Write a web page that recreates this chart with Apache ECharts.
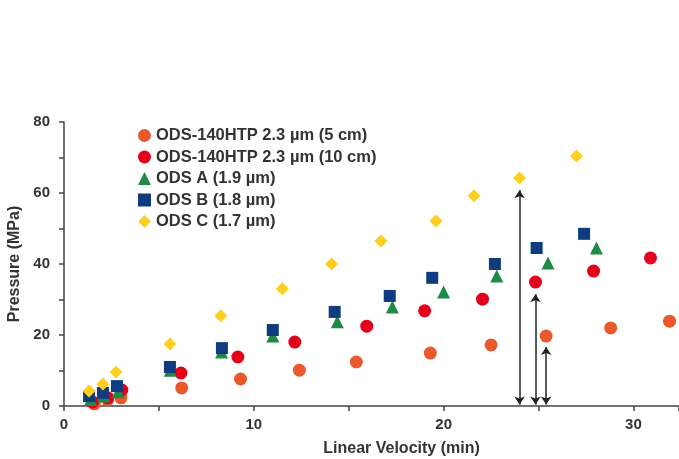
<!DOCTYPE html>
<html>
<head>
<meta charset="utf-8">
<script src="https://cdn.jsdelivr.net/npm/echarts@6/dist/echarts.min.js"></script>
<style>
html,body{margin:0;padding:0;background:#fff;}
#chart{width:679px;height:459px;}
</style>
</head>
<body>
<div id="chart"></div>
<script>
// Series names
const seriesNames = [
  'ODS-140HTP 2.3 µm (5 cm)',
  'ODS-140HTP 2.3 µm (10 cm)',
  'ODS A (1.9 µm)',
  'ODS B (1.8 µm)',
  'ODS C (1.7 µm)'
];
// ODS-140HTP 5 cm
const htp5X = [1.6, 2.3, 3.0, 6.2, 9.3, 12.4, 15.4, 19.3, 22.5, 25.4, 28.8, 31.9];
const htp5Y = [0.6, 1.7, 2.3, 5.1, 7.6, 10.1, 12.4, 14.9, 17.2, 19.7, 22.0, 23.9];
// ODS-140HTP 10 cm
const htp10X = [1.5, 2.3, 3.05, 6.16, 9.16, 12.16, 15.95, 19.0, 22.05, 24.84, 27.9, 30.9];
const htp10Y = [1.1, 2.3, 4.5, 9.3, 13.8, 18.0, 22.5, 26.8, 30.1, 34.9, 38.0, 41.7];
// ODS A
const odsAX = [1.4, 2.1, 2.85, 5.6, 8.3, 11.0, 14.4, 17.3, 20.0, 22.8, 25.5, 28.05];
const odsAY = [1.8, 2.8, 4.0, 10.1, 15.2, 19.7, 23.7, 27.9, 32.1, 36.6, 40.3, 44.5];
// ODS B
const odsBX = [1.32, 2.05, 2.79, 5.58, 8.32, 11.0, 14.26, 17.16, 19.4, 22.7, 24.9, 27.4];
const odsBY = [2.8, 3.7, 5.6, 11.0, 16.3, 21.4, 26.5, 31.0, 36.1, 40.0, 44.5, 48.5];
// ODS C
const odsCX = [1.32, 2.05, 2.74, 5.58, 8.26, 11.5, 14.1, 16.7, 19.6, 21.6, 24.0, 27.0];
const odsCY = [4.2, 6.2, 9.6, 17.5, 25.4, 33.0, 40.0, 46.5, 52.1, 59.2, 64.2, 70.4];
// Double-headed arrows
const arrowX = [24.0, 24.84, 25.4];
const arrowTop = [60.8, 31.5, 16.6];
const arrowBottom = [0.4, 0.4, 0.4];
// Axis ticks
const xLabelValues = [0, 10, 20, 30];
const yLabelValues = [0, 20, 40, 60, 80];

const zip = (xs, ys) => xs.map((x, i) => [x, ys[i]]);
const font = 'Liberation Sans, Arial, sans-serif';
const textColor = '#333';

const chart = echarts.init(document.getElementById('chart'));
const mk = (name, xs, ys, symbol, color, size) => ({
  name, type: 'scatter', data: zip(xs, ys), symbol, symbolSize: size,
  itemStyle: {color, opacity: 1}, emphasis: {disabled: true}
});

chart.setOption({
  animation: false,
  backgroundColor: '#fff',
  grid: {left: 64, right: 0, top: 122, bottom: 53, containLabel: false, outerBoundsMode: 'none'},
  legend: {
    orient: 'vertical', left: 133, top: 122,
    itemWidth: 13, itemHeight: 13, itemGap: 4.5,
    textStyle: {fontFamily: font, fontSize: 16.5, fontWeight: 'bold', color: textColor},
    data: seriesNames
  },
  xAxis: {
    type: 'value', min: 0, max: 32.4, interval: 5,
    name: 'Linear Velocity (min)', nameLocation: 'middle', nameGap: 35,
    nameTextStyle: {fontFamily: font, fontSize: 16, fontWeight: 'bold', color: textColor, padding: [0,0,0,60]},
    axisLine: {lineStyle: {color: '#444', width: 1.5}},
    axisTick: {show: true, length: 5, lineStyle: {color: '#444', width: 1.5}},
    axisLabel: {fontFamily: font, fontSize: 15, fontWeight: 'bold', color: textColor, margin: 11,
      formatter: v => xLabelValues.includes(v) ? String(v) : ''},
    splitLine: {show: false}
  },
  yAxis: {
    type: 'value', min: 0, max: 80, interval: 10,
    name: 'Pressure (MPa)', nameLocation: 'middle', nameGap: 40, nameRotate: 90,
    nameTextStyle: {fontFamily: font, fontSize: 16, fontWeight: 'bold', color: textColor},
    axisLine: {show: true, lineStyle: {color: '#444', width: 1.5}},
    axisTick: {show: true, length: 5, lineStyle: {color: '#444', width: 1.5}},
    axisLabel: {fontFamily: font, fontSize: 15, fontWeight: 'bold', color: textColor, margin: 14,
      formatter: v => yLabelValues.includes(v) ? String(v) : ''},
    splitLine: {show: false}
  },
  series: [
    {
      type: 'lines', coordinateSystem: 'cartesian2d', silent: true, z: 1,
      symbol: ['arrow', 'arrow'], symbolSize: 8,
      lineStyle: {color: '#222', width: 1.5, opacity: 1},
      data: arrowX.map((x, i) => ({coords: [[x, arrowBottom[i]], [x, arrowTop[i]]]}))
    },
    mk(seriesNames[0], htp5X, htp5Y, 'circle', '#E9592C', 13),
    mk(seriesNames[1], htp10X, htp10Y, 'circle', '#E2001A', 13),
    mk(seriesNames[2], odsAX, odsAY, 'triangle', '#1E8A45', 13),
    mk(seriesNames[3], odsBX, odsBY, 'rect', '#0E3C7E', 12),
    mk(seriesNames[4], odsCX, odsCY, 'diamond', '#FFCF1F', 13)
  ]
});
</script>
</body>
</html>
